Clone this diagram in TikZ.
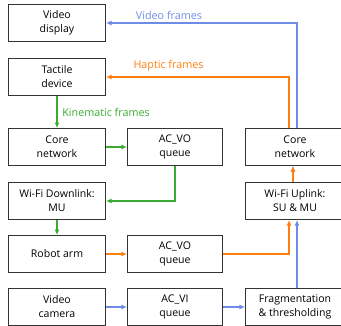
\documentclass[tikz,border=0pt]{standalone}
\usepackage{fontspec}
\setmainfont{Open Sans}
\usetikzlibrary{arrows.meta}
\definecolor{vblue}{RGB}{110,140,230}
\definecolor{horange}{RGB}{255,127,14}
\definecolor{kgreen}{RGB}{60,170,50}
\begin{document}
\begin{tikzpicture}[x=1bp,y=-1bp,
 box/.style={draw=black!80, line width=1bp, minimum width=97bp, minimum height=37bp, inner sep=1bp, align=center, font=\fontsize{10.6}{14}\selectfont, text=black},
 flow/.style={line width=2bp, -{Latex[length=5.5bp,width=5bp]}},
 lbl/.style={font=\fontsize{10.8}{12}\selectfont}]
\useasboundingbox (0,0) rectangle (341,326);
\node[box] (vd) at (57,23) {Video\\display};
\node[box] (td) at (57,77) {Tactile\\device};
\node[box] (cnL) at (57,147) {Core\\network};
\node[box, minimum width=95bp] (q1) at (175,147) {AC\_VO\\queue};
\node[box] (wd) at (57,201) {Wi-Fi Downlink:\\MU};
\node[box] (ra) at (57,254) {Robot arm};
\node[box, minimum width=95bp] (q2) at (175,254) {AC\_VO\\queue};
\node[box] (vc) at (57,307) {Video\\camera};
\node[box, minimum width=95bp] (q3) at (175,307) {AC\_VI\\queue};
\node[box, minimum width=99bp] (cnR) at (295,147) {Core\\network};
\node[box, minimum width=99bp] (ul) at (295,201) {Wi-Fi Uplink:\\SU \& MU};
\node[box, minimum width=99bp] (fr) at (295,307) {Fragmentation\\\& thresholding};
\coordinate (cnRb) at ([xshift=2bp]cnR.north);
\coordinate (cnRo) at ([xshift=-6bp]cnR.north);
\coordinate (cnRc) at ([xshift=-2bp]cnR.south);
\coordinate (ulc) at ([xshift=-2bp]ul.north);
\coordinate (ulb) at ([xshift=2bp]ul.south);
\coordinate (ulo) at ([xshift=-6bp]ul.south);
\coordinate (frb) at ([xshift=2bp]fr.north);
% video
\draw[flow, vblue] (cnRb) |- (vd.east);
\draw[flow, horange] (cnRo) |- (td.east);
\node[lbl, text=vblue] (lv) at (169,15) {Video frames};
\node[lbl, text=horange] (lh) at (168.5,66) {Haptic frames};
% kinematic
\draw[flow, kgreen] (td) -- (cnL) node[lbl, midway, right=1bp, text=kgreen] (lk) {Kinematic frames};
\draw[flow, kgreen] (cnL) -- (q1);
\draw[flow, kgreen] (q1.south) |- (wd.east);
\draw[flow, kgreen] (wd) -- (ra);
% haptic
\draw[flow, horange] (ra) -- (q2);
\draw[flow, horange] (q2.east) -| (ulo);
% video uplink
\draw[flow, vblue] (vc) -- (q3);
\draw[flow, vblue] (q3) -- (fr);
\draw[flow, vblue] (frb) -- (ulb);
\draw[flow, vblue] (ulc) -- (cnRc);
\draw[flow, horange] (ulc) -- (cnRc);
\end{tikzpicture}
\end{document}
